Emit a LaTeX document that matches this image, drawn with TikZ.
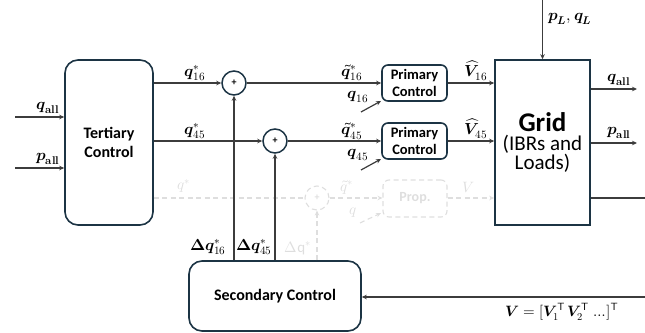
\documentclass[tikz,border=0pt]{standalone}
\usepackage{fontspec}
\usepackage{unicode-math}
\setmainfont{Carlito}
\setmathfont{Latin Modern Math}
\usetikzlibrary{arrows.meta}
\definecolor{boxc}{RGB}{28,52,68}
\definecolor{linec}{RGB}{60,60,60}
\definecolor{ghost}{RGB}{222,222,222}
\tikzset{
  blk/.style={draw=boxc, line width=1.6pt, align=center, inner sep=0pt},
  rblk/.style={blk, rounded corners=13pt},
  pblk/.style={blk, rounded corners=6pt, font=\fontsize{14.5}{17}\selectfont\bfseries, minimum width=65pt, minimum height=36pt},
  sumc/.style={circle, draw=boxc, line width=1.5pt, minimum size=24pt, inner sep=0pt, font=\fontsize{10}{10}\selectfont\bfseries},
  arr/.style={draw=linec, line width=1.2pt, -{Stealth[length=5pt,width=4.5pt]}},
  ln/.style={draw=linec, line width=1.2pt},
  lbl/.style={inner sep=0pt, font=\fontsize{16}{18}\selectfont},
  gh/.style={draw=ghost, line width=1.1pt, dash pattern=on 5pt off 3.5pt},
  gharr/.style={gh, -{Stealth[length=5pt,width=4.5pt]}},
  ghl/.style={inner sep=0pt, text=ghost, font=\fontsize{15}{17}\selectfont},
}
\begin{document}
\begin{tikzpicture}[x=1pt,y=-1pt]
\useasboundingbox (0,0) rectangle (645,332);
\begin{scope}
\clip (0,0) rectangle (645,332);
% blocks
\node[rblk, minimum width=88pt, minimum height=165pt, font=\fontsize{16}{18.5}\selectfont\bfseries] (tert) at (109,142.5) {Tertiary\\Control};
\node[sumc] (s1) at (234,83) {+};
\node[sumc] (s2) at (275,141) {+};
\node[pblk] (p1) at (414.5,83) {Primary\\Control};
\node[pblk] (p2) at (414.5,141) {Primary\\Control};
\node[blk, minimum width=95pt, minimum height=165pt] (grid) at (542.5,142.5) {{\fontsize{27}{28}\selectfont\bfseries Grid}\\[2pt]{\fontsize{21}{26}\selectfont (IBRs and}\\{\fontsize{21}{26}\selectfont Loads)}};
\node[rblk, minimum width=172pt, minimum height=70pt, font=\fontsize{16}{18}\selectfont\bfseries] (sec) at (275,296) {Secondary Control};

% ghost layer
\node[circle, gh, minimum size=24pt, inner sep=0pt, text=ghost, font=\fontsize{10}{10}\selectfont\bfseries] (gs) at (317,198) {+};
\node[gh, rounded corners=6pt, minimum width=64pt, minimum height=37pt, text=ghost, font=\fontsize{14}{15}\selectfont\bfseries] (gp) at (415,198.5) {Prop.};
\draw[gh] (tert.east |- gs) -- (gs.west);
\draw[gharr] (gs.east) -- (gp.west |- gs);
\draw[gharr] (gp.east |- gs) -- (grid.west |- gs);
\draw[gharr] (sec.north -| gs) -- (gs.south);
\coordinate (gq) at (360,223);
\draw[gharr] (gq) -- (381,213);
\node[ghl] (lgq) at (184,186) {$q^{*}$};
\node[ghl] (lgqt) at (347,187) {$\widetilde{q}^{*}$};
\node[ghl] (lgv) at (468,188) {$V$};
\node[ghl] (lgqq) at (353,213) {$q$};
\node[ghl] (lgdq) at (298,248) {$\Delta\mathrm{q}^{*}$};

% inputs to tertiary
\coordinate (qain) at (15,117);
\coordinate (pain) at (15,168);
\draw[arr] (qain) -- (qain -| tert.west);
\draw[arr] (pain) -- (pain -| tert.west);
\node[lbl] (lqa) at (48,108) {$\symbfit{q}_{\symbf{all}}$};
\node[lbl] (lpa) at (48,159) {$\symbfit{p}_{\symbf{all}}$};

% tertiary to sums
\draw[arr] (tert.east |- s1) -- (s1.west);
\draw[arr] (tert.east |- s2) -- (s2.west);
\node[lbl] (lq16) at (195,73) {$\symbfit{q}^{*}_{16}$};
\node[lbl] (lq45) at (195,131) {$\symbfit{q}^{*}_{45}$};

% sums to primary
\draw[arr] (s1.east) -- (p1.west);
\draw[arr] (s2.east) -- (p2.west);
\node[lbl] (lqt16) at (352,73) {$\widetilde{\symbfit{q}}^{*}_{16}$};
\node[lbl] (lqt45) at (352,131) {$\widetilde{\symbfit{q}}^{*}_{45}$};
\coordinate (q16in) at (361,112);
\coordinate (q45in) at (361,170);
\draw[arr] (q16in) -- (381,101);
\draw[arr] (q45in) -- (381,159);
\node[lbl] (lq16b) at (358,97) {$\symbfit{q}_{16}$};
\node[lbl] (lq45b) at (358,155) {$\symbfit{q}_{45}$};

% primary to grid
\draw[arr] (p1.east) -- (p1.east -| grid.west);
\draw[arr] (p2.east) -- (p2.east -| grid.west);
\node[lbl] (lv16) at (476,71) {$\widehat{\symbfit{V}}_{16}$};
\node[lbl] (lv45) at (476,129) {$\widehat{\symbfit{V}}_{45}$};

% loads
\coordinate (ld) at (542.5,0);
\draw[arr] (ld) -- (grid.north);
\node[lbl] (lpl) at (570,19) {$\symbfit{p}_{\symbfit{L}},\symbfit{q}_{\symbfit{L}}$};

% grid outputs
\coordinate (qout) at (637,89);
\coordinate (pout) at (637,143);
\coordinate (vout) at (646,198);
\coordinate (vin) at (646,297);
\draw[arr] (grid.east |- qout) -- (qout);
\draw[arr] (grid.east |- pout) -- (pout);
\node[lbl] (lqo) at (619,80) {$\symbfit{q}_{\symbf{all}}$};
\node[lbl] (lpo) at (619,133) {$\symbfit{p}_{\symbf{all}}$};
\draw[ln] (grid.east |- vout) -- (vout);
\draw[arr] (vin) -- (vin -| sec.east);
\node[lbl, font=\fontsize{15}{17}\selectfont] (lvv) at (562,312) {$\symbfit{V}=[\symbfit{V}_{1}^{\mathsf{T}}\,\symbfit{V}_{2}^{\mathsf{T}}\,\symbf{\ldots}]^{\mathsf{T}}$};

% secondary to sums
\draw[arr] (sec.north -| s1) -- (s1.south);
\draw[arr] (sec.north -| s2) -- (s2.south);
\node[lbl] (ld16) at (208,247) {$\symbf{\Delta}\symbfit{q}^{*}_{16}$};
\node[lbl] (ld45) at (254,247) {$\symbf{\Delta}\symbfit{q}^{*}_{45}$};
\end{scope}
\end{tikzpicture}
\end{document}
